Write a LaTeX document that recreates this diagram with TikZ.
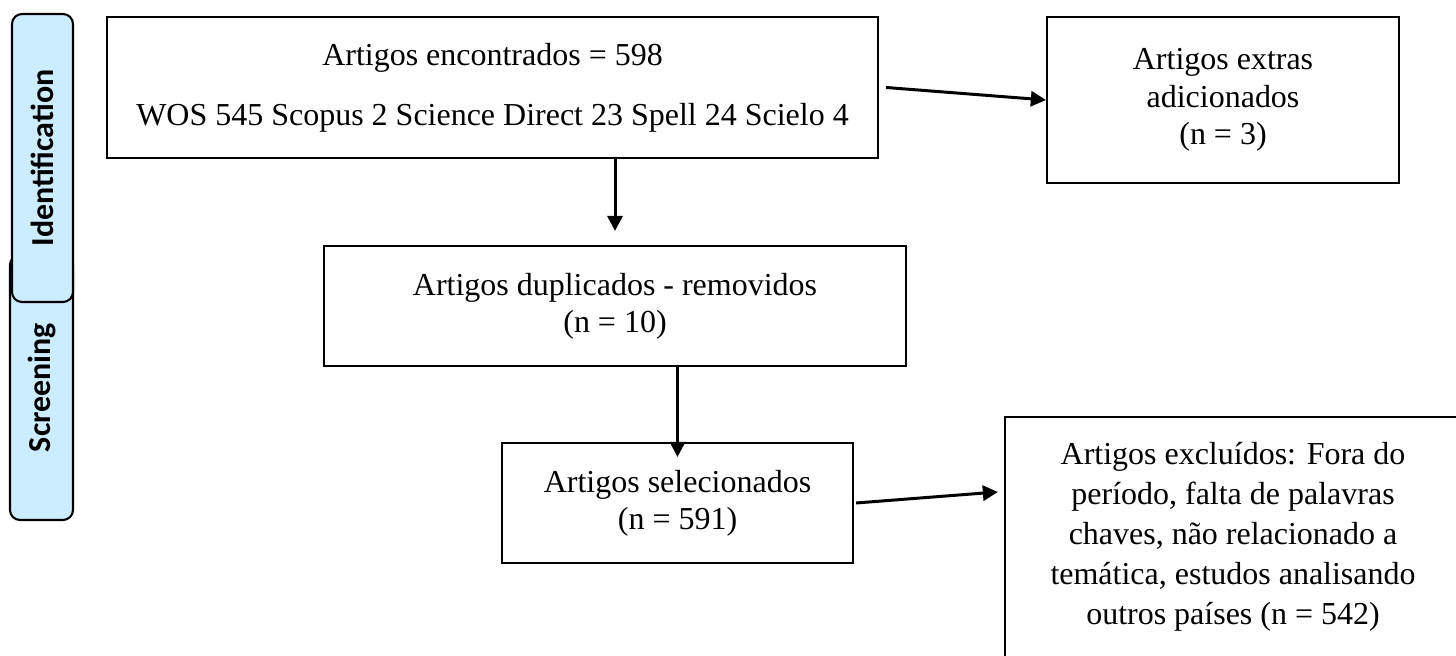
\documentclass[tikz,border=0pt]{standalone}
\usepackage{fontspec}
\setmainfont{Liberation Serif}
\newfontfamily\barfont{Carlito}
\usepackage{tikz}
\usetikzlibrary{arrows.meta}
\definecolor{barblue}{RGB}{204,236,255}

\begin{document}
\begin{tikzpicture}[
    box/.style={draw, line width=0.6pt, align=center, inner sep=0pt,
        font=\fontsize{9.1pt}{10.6pt}\selectfont},
    bar/.style={draw, line width=0.6pt, fill=barblue, rounded corners=0.1cm,
        rotate=90, inner sep=0pt, font=\barfont\bfseries\fontsize{9.1pt}{10.6pt}\selectfont},
    arr/.style={line width=0.85pt, -{Triangle[length=4.3pt,width=4.3pt]}}
]
            % Frame
            \useasboundingbox (0,0) rectangle (14.56,-6.56);

            % Side bars
            \node[bar, minimum width=2.65cm, minimum height=0.63cm] (scrbar) at (0.415,-3.875) {Screening};
            \node[bar, minimum width=2.88cm, minimum height=0.61cm] (idbar) at (0.425,-1.58) {Identification};

            % Boxes
            \node[box, minimum width=7.71cm, minimum height=1.41cm] (found) at (4.925,-0.875)
                {Artigos encontrados = 598\\[6.4pt] WOS 545 Scopus 2 Science Direct 23 Spell 24 Scielo 4};
            \node[box, minimum width=3.52cm, minimum height=1.66cm] (extra) at (12.23,-1.0)
                {Artigos extras\\adicionados\\(n = 3)};
            \node[box, minimum width=5.82cm, minimum height=1.20cm] (dup) at (6.15,-3.06)
                {Artigos duplicados - removidos\\(n = 10)};
            \node[box, minimum width=3.51cm, minimum height=1.20cm] (sel) at (6.775,-5.03)
                {Artigos selecionados\\(n = 591)};
            \node[box, minimum width=4.56cm, minimum height=2.40cm,
                font=\fontsize{9.1pt}{11.4pt}\selectfont] (excl) at (12.33,-5.37)
                {Artigos excluídos: Fora do\\período, falta de palavras\\chaves, não relacionado a\\temática, estudos analisando\\outros países (n = 542)};

            % Arrows
            \draw[arr] ([xshift=0.07cm]found.east) -- (extra.west);
            \draw[arr] (found.south -| dup.north) -- ([yshift=0.14cm]dup.north);
            \draw[arr] (dup.south -| sel.north) -- ([yshift=-0.15cm]sel.north);
            \draw[arr] ([xshift=0.02cm]sel.east) -- ([xshift=-0.06cm,yshift=-0.76cm]excl.north west);
        \end{tikzpicture}
\end{document}
